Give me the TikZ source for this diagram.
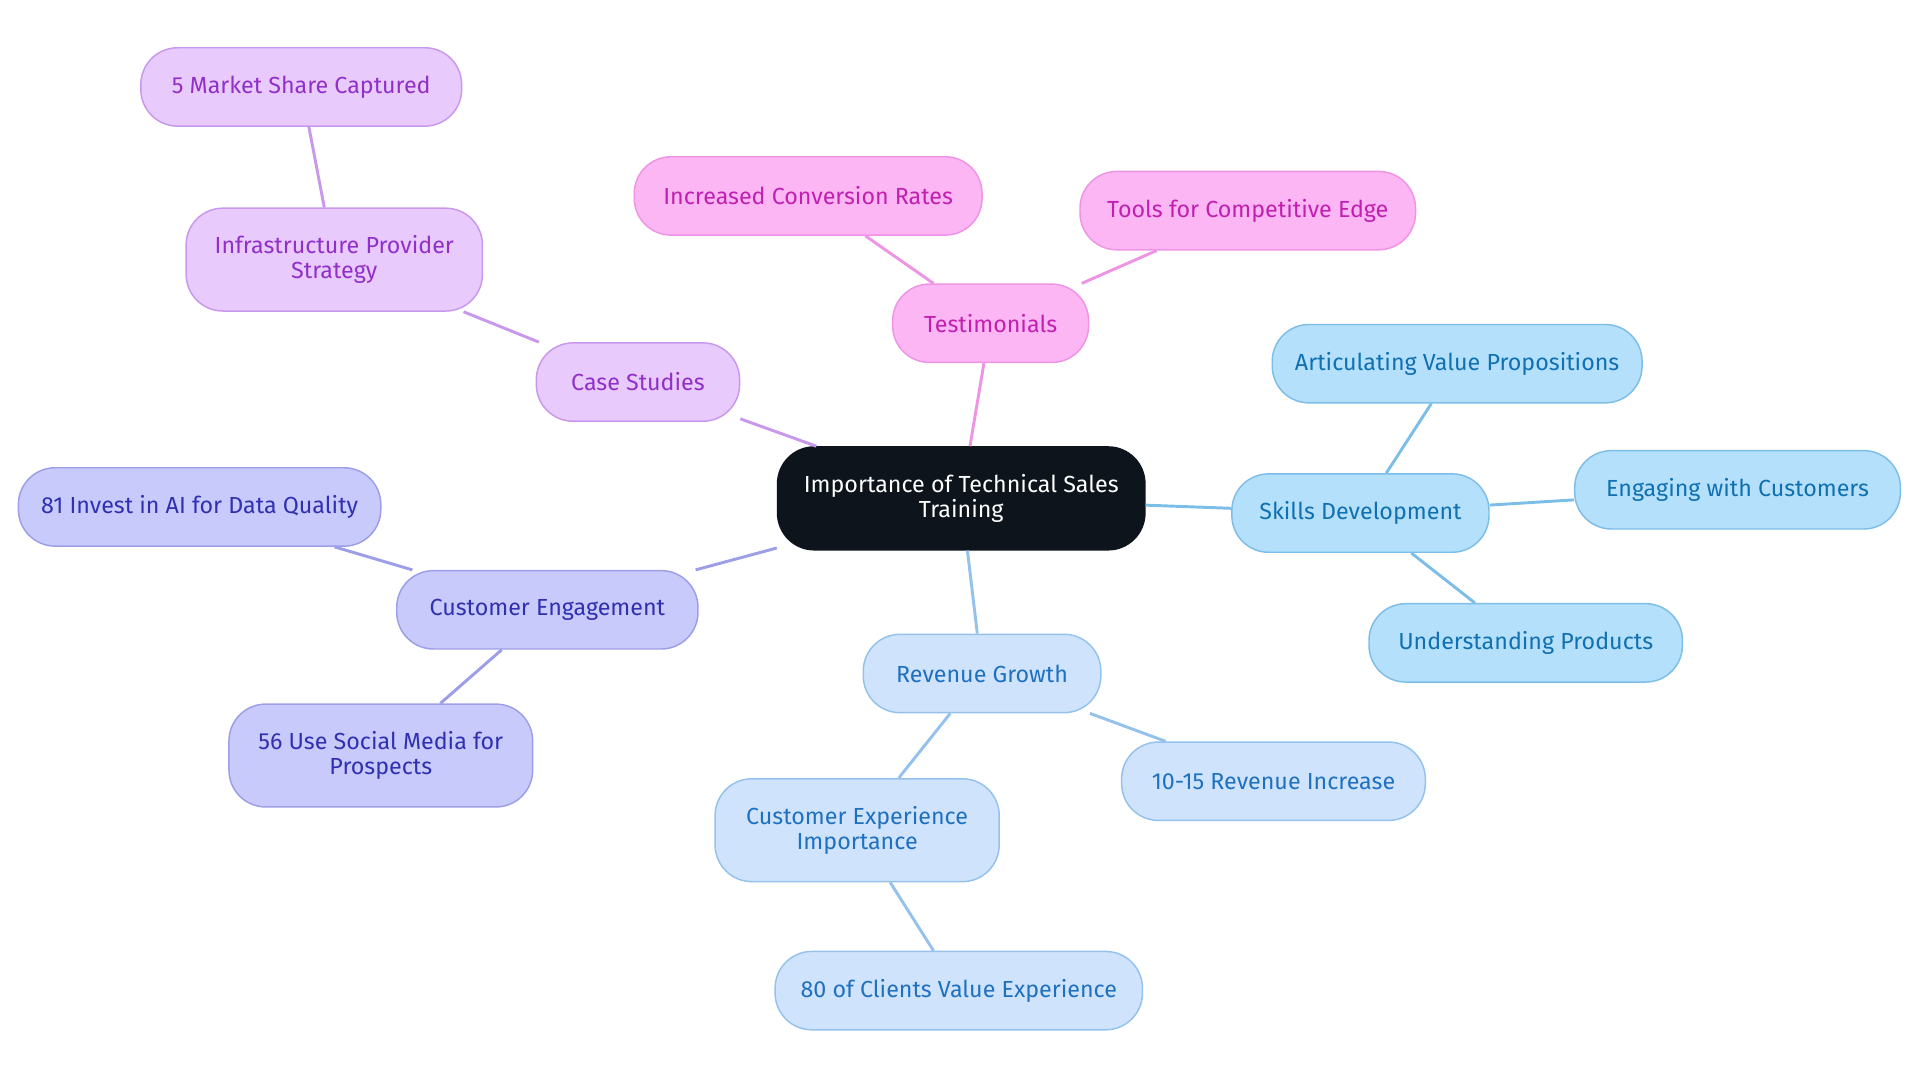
\documentclass[tikz,border=0pt]{standalone}
\usepackage{fontspec}
\setmainfont{Fira Sans}
\definecolor{rootfill}{HTML}{0D141B}
\definecolor{pinkfill}{HTML}{FCB6F4}\definecolor{pinkline}{HTML}{EE94E4}\definecolor{pinktext}{HTML}{C020B0}
\definecolor{violfill}{HTML}{E9CAFC}\definecolor{violline}{HTML}{C898EC}\definecolor{violtext}{HTML}{9030C8}
\definecolor{indifill}{HTML}{C8CAFC}\definecolor{indiline}{HTML}{9C9EE8}\definecolor{inditext}{HTML}{3030B0}
\definecolor{skyfill}{HTML}{B4E0FC}\definecolor{skyline}{HTML}{7CBEE8}\definecolor{skytext}{HTML}{1070B0}
\definecolor{bluefill}{HTML}{CFE4FC}\definecolor{blueline}{HTML}{94C2EC}\definecolor{bluetext}{HTML}{2070C0}
\tikzset{
  box/.style={draw, rounded corners=15pt, minimum height=32pt, align=center, line width=0.6pt,
    font=\fontsize{9.5}{10}\selectfont, inner sep=2pt},
  tall/.style={minimum height=42pt},
  pinkbox/.style={box, fill=pinkfill, draw=pinkline, text=pinktext},
  violbox/.style={box, fill=violfill, draw=violline, text=violtext},
  indibox/.style={box, fill=indifill, draw=indiline, text=inditext},
  skybox/.style={box, fill=skyfill, draw=skyline, text=skytext},
  bluebox/.style={box, fill=bluefill, draw=blueline, text=bluetext},
  link/.style={line width=1.2pt}
}
\begin{document}
\begin{tikzpicture}[x=0.5pt,y=-0.5pt]
	\useasboundingbox (0,0) rectangle (1568,884);
	
	% root
	\node [box, tall, fill=rootfill, draw=rootfill, text=white, minimum width=150pt] (root) at (785,407) {Importance of Technical Sales\\Training};
	
	% Testimonials branch
	\node [pinkbox, minimum width=80pt] (testi) at (809,264) {Testimonials};
	\node [pinkbox, minimum width=142pt] (conv) at (660,160) {Increased Conversion Rates};
	\node [pinkbox, minimum width=137pt] (tools) at (1019,172) {Tools for Competitive Edge};
	
	% Case studies branch
	\node [violbox, minimum width=83pt] (cases) at (521,312) {Case Studies};
	\node [violbox, tall, minimum width=121pt] (infra) at (273,212) {Infrastructure Provider\\Strategy};
	\node [violbox, minimum width=131pt] (share) at (246,71) {5 Market Share Captured};
	
	% Customer engagement branch
	\node [indibox, minimum width=123pt] (engage) at (447,498) {Customer Engagement};
	\node [indibox, minimum width=148pt] (invest) at (163,414) {81 Invest in AI for Data Quality};
	\node [indibox, tall, minimum width=124pt] (social) at (311,617) {56 Use Social Media for\\Prospects};
	
	% Skills branch
	\node [skybox, minimum width=105pt] (skills) at (1111,419) {Skills Development};
	\node [skybox, minimum width=151pt] (value) at (1190,297) {Articulating Value Propositions};
	\node [skybox, minimum width=133pt] (custs) at (1419,400) {Engaging with Customers};
	\node [skybox, minimum width=128pt] (prods) at (1246,525) {Understanding Products};
	
	% Revenue branch
	\node [bluebox, minimum width=97pt] (revenue) at (802,550) {Revenue Growth};
	\node [bluebox, minimum width=124pt] (incr) at (1040,638) {10-15 Revenue Increase};
	\node [bluebox, tall, minimum width=116pt] (exper) at (700,678) {Customer Experience\\Importance};
	\node [bluebox, minimum width=150pt] (clients) at (783,809) {80 of Clients Value Experience};
	
	% links
	\begin{scope}[on background layer/.style={}]
	\draw [link, pinkline] (root) -- (testi);
	\draw [link, pinkline] (testi) -- (conv);
	\draw [link, pinkline] (testi) -- (tools);
	\draw [link, violline] (root) -- (cases);
	\draw [link, violline] (cases) -- (infra);
	\draw [link, violline] (infra) -- (share);
	\draw [link, indiline] (root) -- (engage);
	\draw [link, indiline] (engage) -- (invest);
	\draw [link, indiline] (engage) -- (social);
	\draw [link, skyline] (root) -- (skills);
	\draw [link, skyline] (skills) -- (value);
	\draw [link, skyline] (skills) -- (custs);
	\draw [link, skyline] (skills) -- (prods);
	\draw [link, blueline] (root) -- (revenue);
	\draw [link, blueline] (revenue) -- (incr);
	\draw [link, blueline] (revenue) -- (exper);
	\draw [link, blueline] (exper) -- (clients);
	\end{scope}
\end{tikzpicture}
\end{document}
